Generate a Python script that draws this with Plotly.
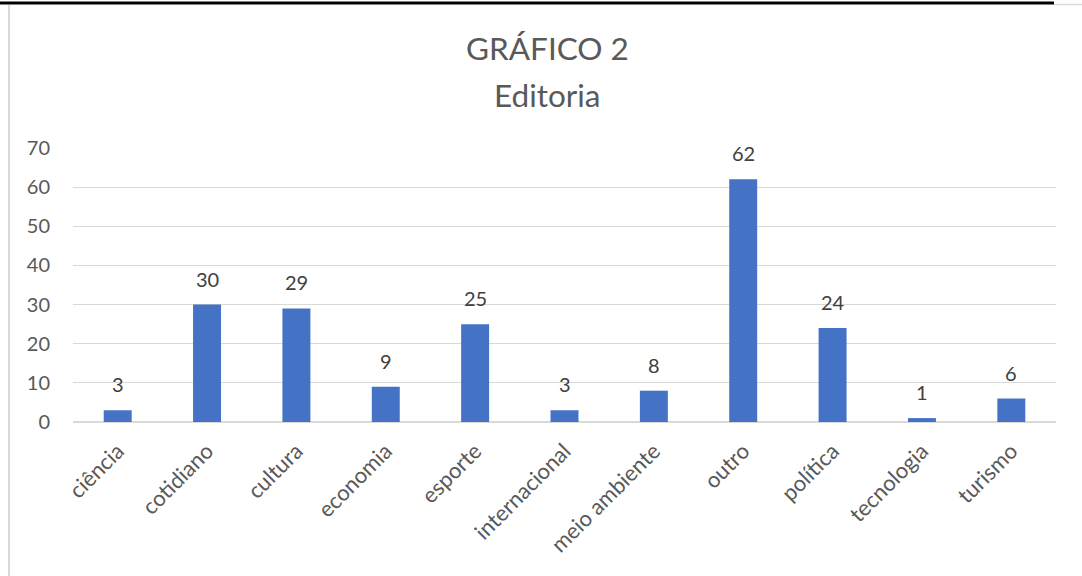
import plotly.graph_objects as go

categories = ["ciência", "cotidiano", "cultura", "economia", "esporte", "internacional",
              "meio ambiente", "outro", "política", "tecnologia", "turismo"]
values = [3, 30, 29, 9, 25, 3, 8, 62, 24, 1, 6]
y_ticks = [0, 10, 20, 30, 40, 50, 60, 70]
title_lines = ["GRÁFICO 2", "Editoria"]

FONT = "Lato, Liberation Sans, sans-serif"
W, H = 1082, 576
L, R, T, B = 73, 26, 148, 154
pw, ph = W - L - R, H - T - B

def px(x):
    return (x - L) / pw

def py(y):
    return (H - B - y) / ph

fig = go.Figure()
fig.add_trace(go.Bar(x=categories, y=values, marker=dict(color="#4472C4", line=dict(width=0)),
                     hoverinfo="x+y"))

for c, v in zip(categories, values):
    fig.add_annotation(x=c, y=v, text=str(v), showarrow=False, yanchor="middle", yshift=26,
                       font=dict(family=FONT, size=20, color="#404040"))

for line, yc in zip(title_lines, [48, 95]):
    fig.add_annotation(xref="paper", yref="paper", x=px(547), y=py(yc), text=line, showarrow=False,
                       xanchor="center", yanchor="middle",
                       font=dict(family=FONT, size=31.5, color="#595959"))

fig.update_layout(
    width=W, height=H,
    margin=dict(l=L, r=R, t=T, b=B, autoexpand=False),
    paper_bgcolor="white", plot_bgcolor="white",
    bargap=0.687,
    showlegend=False,
    xaxis=dict(tickangle=-45, tickfont=dict(family=FONT, size=22, color="#595959"),
               showgrid=False, showline=False, ticks="", ticklen=0, zeroline=False,
               ticklabelstandoff=11),
    yaxis=dict(range=[0, 70], tickvals=y_ticks, tickfont=dict(family=FONT, size=20, color="#595959"),
               showgrid=True, gridcolor="#d9d9d9", gridwidth=1, zeroline=True, zerolinecolor="#d9d9d9",
               zerolinewidth=2, showline=False, ticks="", ticklen=0, ticklabelstandoff=22),
    shapes=[
        dict(type="line", xref="paper", yref="paper", x0=px(0), x1=px(1054), y0=py(3), y1=py(3),
             line=dict(color="black", width=3)),
        dict(type="line", xref="paper", yref="paper", x0=px(1054), x1=px(1082), y0=py(4.5), y1=py(4.5),
             line=dict(color="#d9d9d9", width=1.5)),
        dict(type="line", xref="paper", yref="paper", x0=px(9), x1=px(9), y0=py(5), y1=py(576),
             line=dict(color="#d9d9d9", width=2)),
    ],
)

fig.write_html("out.html")
